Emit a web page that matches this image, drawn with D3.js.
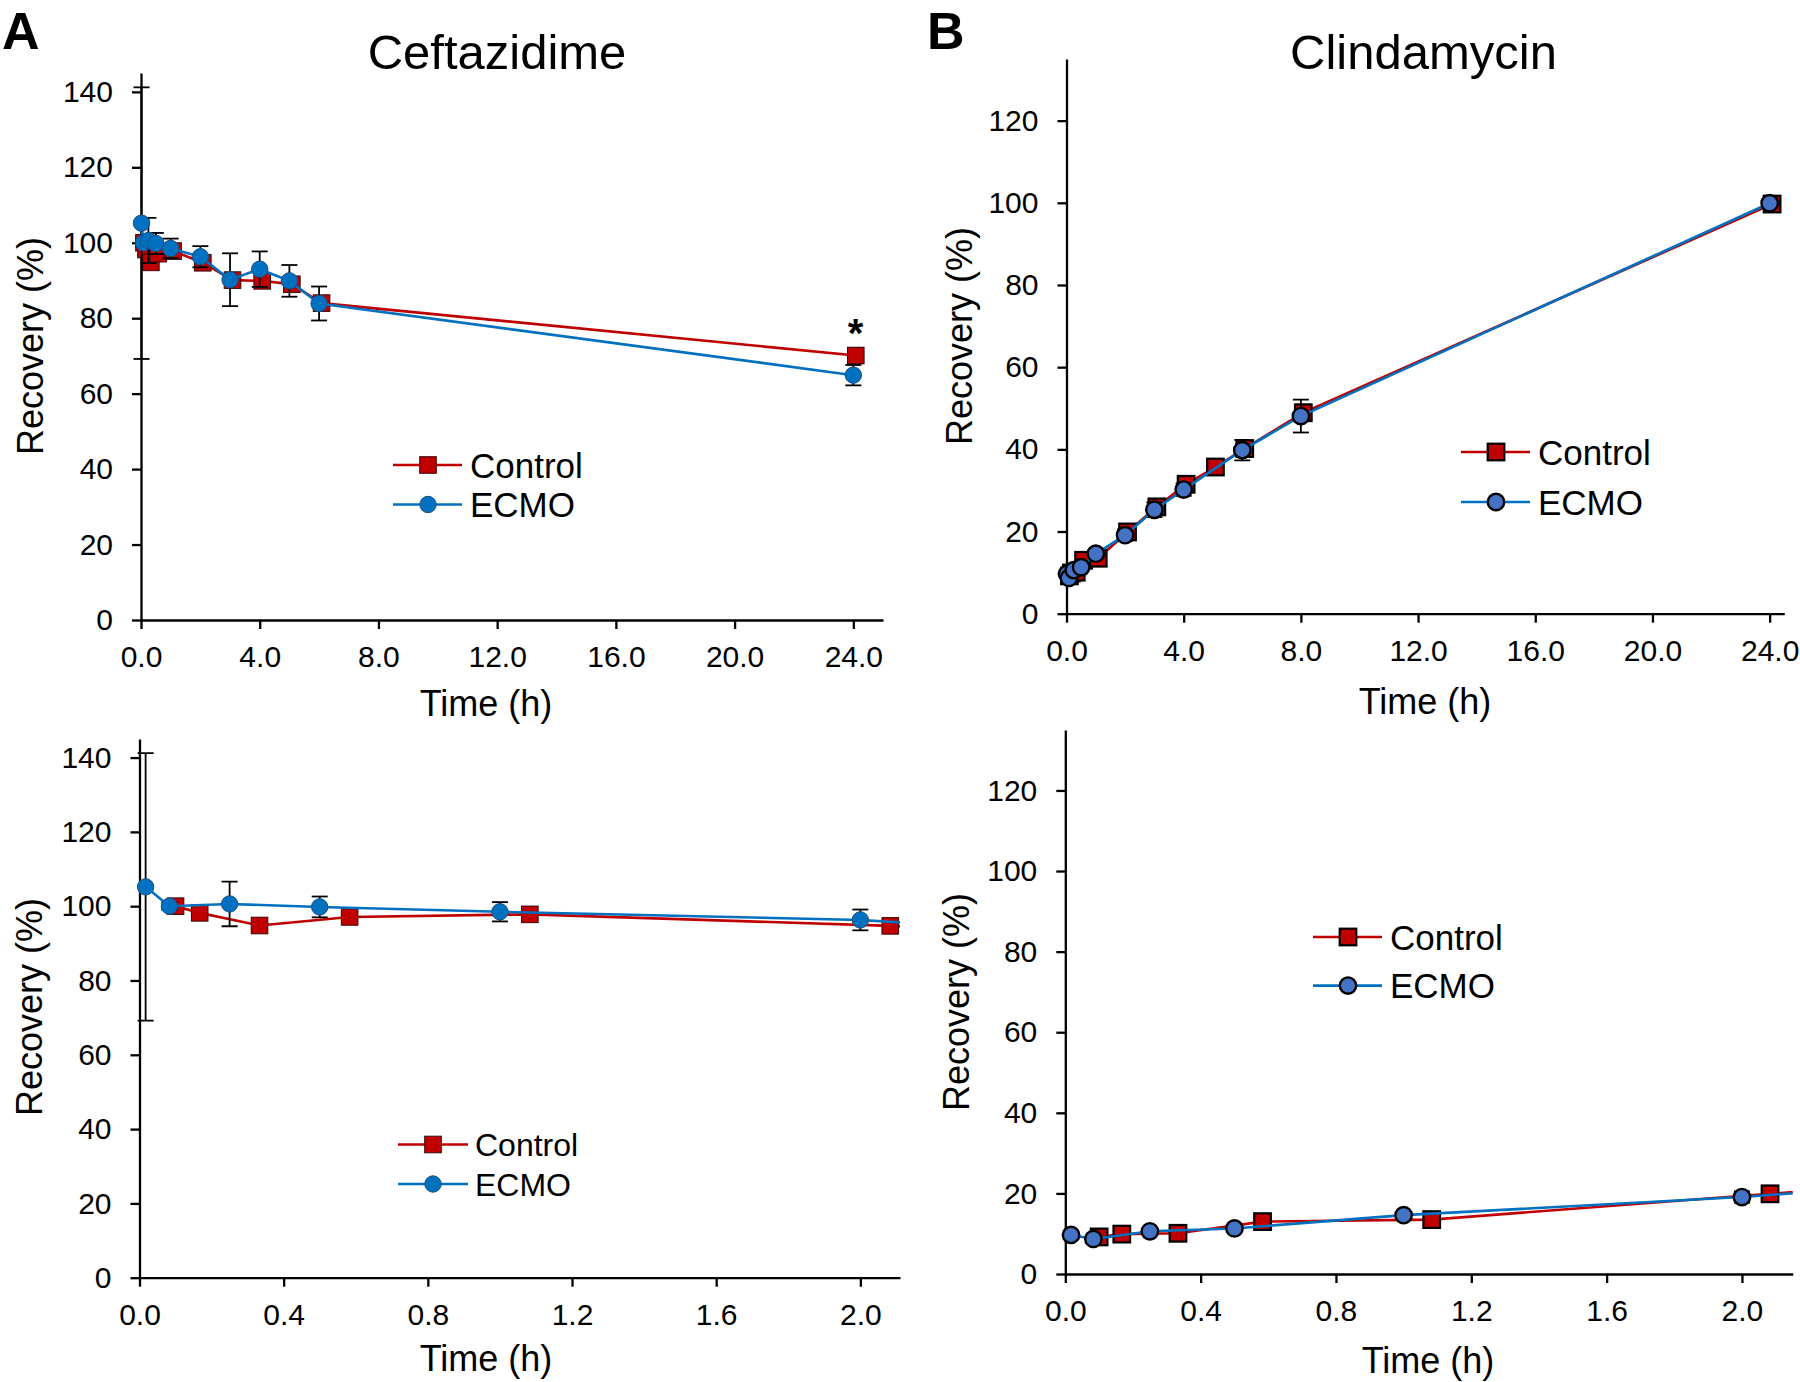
<!DOCTYPE html>
<html>
<head>
<meta charset="utf-8">
<script src="https://cdn.jsdelivr.net/npm/d3@7"></script>
<style>
  body { margin: 0; background: #fff; }
  svg { display: block; }
</style>
</head>
<body>
<svg id="chart" width="1800" height="1382"></svg>
<script>
// ---- data (time in h, recovery in %) ----
// Ceftazidime
const cefCtrlTime = [0.1, 0.167, 0.333, 0.583, 1.083, 2.083, 3.083, 4.083, 5.083, 6.083, 24.083];
const cefCtrl     = [100, 98.2, 94.8, 97.1, 97.8, 94.7, 90.1, 89.9, 89.0, 84.0, 70.1];
const cefCtrlSd   = [0.8, 1.0, 0.8, 1.0, 0.9, 1.0, 1.2, 1.2, 1.5, 1.5, 2.0];
const cefEcmoTime = [0.017, 0.083, 0.25, 0.5, 1, 2, 3, 4, 5, 6, 24];
const cefEcmo     = [105.2, 100, 100.6, 99.8, 98.5, 96.3, 90.2, 93.0, 89.9, 83.9, 64.9];
const cefEcmoSd   = [36, 1.0, 6.0, 2.8, 2.6, 2.8, 7.0, 4.7, 4.2, 4.5, 2.7];

// Clindamycin
const cliCtrlTime = [0.1, 0.167, 0.333, 0.583, 1.083, 2.083, 3.083, 4.083, 5.083, 6.083, 8.083, 24.083];
const cliCtrl     = [9.2, 9.9, 10.1, 13.0, 13.5, 19.9, 26.0, 31.5, 35.7, 40.2, 48.9, 99.7];
const cliCtrlSd   = [0.6, 0.6, 0.6, 0.8, 0.8, 1.0, 1.5, 1.2, 1.0, 1.8, 2.0, 1.2];
const cliEcmoTime = [0.017, 0.083, 0.25, 0.5, 1, 2, 3, 4, 6, 8, 24];
const cliEcmo     = [9.7, 8.7, 10.6, 11.3, 14.6, 19.1, 25.3, 30.2, 39.8, 48.1, 99.9];
const cliEcmoSd   = [0.5, 0.6, 0.6, 0.6, 0.8, 1.4, 1.8, 1.5, 2.5, 4.0, 1.0];

const recoveryTicks = [0, 20, 40, 60, 80, 100, 120, 140];
const recoveryTicksB = [0, 20, 40, 60, 80, 100, 120];
const longTimeTicks = [0, 4, 8, 12, 16, 20, 24];
const shortTimeTicks = [0, 0.4, 0.8, 1.2, 1.6, 2.0];

const FONT = "'Liberation Sans', Arial, Helvetica, sans-serif";
const RED = "#C00000";
const BLUE = "#0070C0";

const svg = d3.select("#chart");

// marker looks differ between the two drug panels
const styleA = { sqStroke: "#3a0a0a", sqWidth: 1, cFill: "#0070C0", cStroke: "#1d4f80", cWidth: 1 };
const styleB = { sqStroke: "#000", sqWidth: 2.2, cFill: "#4472C4", cStroke: "#000", cWidth: 2.4 };

const series = {
  cef: [
    { name: "Control", t: cefCtrlTime, v: cefCtrl, sd: cefCtrlSd, color: RED, shape: "square" },
    { name: "ECMO", t: cefEcmoTime, v: cefEcmo, sd: cefEcmoSd, color: BLUE, shape: "circle" }
  ],
  cli: [
    { name: "Control", t: cliCtrlTime, v: cliCtrl, sd: cliCtrlSd, color: RED, shape: "square" },
    { name: "ECMO", t: cliEcmoTime, v: cliEcmo, sd: cliEcmoSd, color: BLUE, shape: "circle" }
  ]
};

const panels = [
  { id: "at", data: series.cef, style: styleA,
    xDomain: [0, 25], xRange: [141, 883], xTicks: longTimeTicks,
    yDomain: [0, 145], yRange: [620, 73], yTicks: recoveryTicks,
    xTitle: [486, 716], yTitle: [43, 346],
    legend: { x1: 393, x2: 462, mx: 428, rows: [465, 504.5], tx: 470, fs: 35 } },
  { id: "ab", data: series.cef, style: styleA,
    xDomain: [0, 2.11], xRange: [139.5, 900], xTicks: shortTimeTicks,
    yDomain: [0, 145], yRange: [1277.7, 739], yTicks: recoveryTicks,
    xTitle: [486, 1371], yTitle: [42, 1007],
    legend: { x1: 398, x2: 468, mx: 433, rows: [1144.5, 1184], tx: 475, fs: 32 } },
  { id: "bt", data: series.cli, style: styleB,
    xDomain: [0, 24.5], xRange: [1066.5, 1784.3], xTicks: longTimeTicks,
    yDomain: [0, 135], yRange: [613.7, 59], yTicks: recoveryTicksB,
    xTitle: [1425, 714], yTitle: [972, 336],
    legend: { x1: 1461, x2: 1530, mx: 1496, rows: [452, 502], tx: 1538, fs: 35 } },
  { id: "bb", data: series.cli, style: styleB,
    xDomain: [0, 2.15], xRange: [1065.3, 1792.7], xTicks: shortTimeTicks,
    yDomain: [0, 135], yRange: [1274, 730], yTicks: recoveryTicksB,
    xTitle: [1428, 1373], yTitle: [969, 1002],
    legend: { x1: 1313, x2: 1382, mx: 1348, rows: [937, 985.6], tx: 1390, fs: 35 } }
];

function drawMarker(g, shape, cx, cy, st, color) {
  if (shape === "square") {
    g.append("rect")
      .attr("x", cx - 8.3).attr("y", cy - 8.3)
      .attr("width", 16.6).attr("height", 16.6)
      .attr("fill", color)
      .attr("stroke", st.sqStroke).attr("stroke-width", st.sqWidth);
  } else {
    g.append("circle")
      .attr("cx", cx).attr("cy", cy).attr("r", 8.2)
      .attr("fill", st.cFill)
      .attr("stroke", st.cStroke).attr("stroke-width", st.cWidth);
  }
}

function drawPanel(p) {
  const x = d3.scaleLinear().domain(p.xDomain).range(p.xRange);
  const y = d3.scaleLinear().domain(p.yDomain).range(p.yRange);

  // clip at the right end of the x axis, so lines run off the short panels
  svg.append("clipPath").attr("id", "clip-" + p.id)
    .append("rect")
    .attr("x", p.xRange[0] - 40).attr("y", p.yRange[1] - 40)
    .attr("width", p.xRange[1] - p.xRange[0] + 40)
    .attr("height", p.yRange[0] - p.yRange[1] + 80);

  // axes
  const gx = svg.append("g")
    .attr("transform", `translate(0,${p.yRange[0]})`)
    .call(d3.axisBottom(x).tickValues(p.xTicks).tickFormat(d3.format(".1f"))
      .tickSize(9).tickPadding(17).tickSizeOuter(0));
  const gy = svg.append("g")
    .attr("transform", `translate(${p.xRange[0]},0)`)
    .call(d3.axisLeft(y).tickValues(p.yTicks).tickFormat(d3.format("d"))
      .tickSize(9).tickPadding(19).tickSizeOuter(0));
  [gx, gy].forEach(g => {
    g.attr("font-family", FONT).attr("font-size", 30);
    g.select(".domain").attr("stroke", "#000").attr("stroke-width", 2.3);
    g.selectAll(".tick line").attr("stroke", "#000").attr("stroke-width", 2.3);
    g.selectAll(".tick text").attr("fill", "#000");
  });

  // axis titles
  svg.append("text")
    .attr("x", p.xTitle[0]).attr("y", p.xTitle[1])
    .attr("text-anchor", "middle")
    .attr("font-family", FONT).attr("font-size", 36)
    .text("Time (h)");
  svg.append("text")
    .attr("transform", `translate(${p.yTitle[0]},${p.yTitle[1]}) rotate(-90)`)
    .attr("text-anchor", "middle")
    .attr("font-family", FONT).attr("font-size", 36)
    .text("Recovery (%)");

  const plot = svg.append("g").attr("clip-path", `url(#clip-${p.id})`);
  const line = d3.line().x(d => x(d[0])).y(d => y(d[1]));

  p.data.forEach(s => {
    const pts = s.t.map((t, i) => [t, s.v[i], s.sd[i]]);
    const g = plot.append("g");

    // error bars
    pts.forEach(d => {
      const cx = x(d[0]);
      const lo = y(d[1] - d[2]), hi = y(d[1] + d[2]);
      g.append("line").attr("x1", cx).attr("x2", cx).attr("y1", lo).attr("y2", hi)
        .attr("stroke", "#000").attr("stroke-width", 1.8);
      [lo, hi].forEach(yy => g.append("line")
        .attr("x1", cx - 8).attr("x2", cx + 8).attr("y1", yy).attr("y2", yy)
        .attr("stroke", "#000").attr("stroke-width", 1.8));
    });

    g.append("path")
      .datum(pts)
      .attr("d", line)
      .attr("fill", "none")
      .attr("stroke", s.color)
      .attr("stroke-width", 2.6);

    pts.forEach(d => drawMarker(g, s.shape, x(d[0]), y(d[1]), p.style, s.color));
  });

  // legend
  const L = p.legend;
  p.data.forEach((s, i) => {
    const ry = L.rows[i];
    svg.append("line").attr("x1", L.x1).attr("x2", L.x2).attr("y1", ry).attr("y2", ry)
      .attr("stroke", s.color).attr("stroke-width", 2.6);
    drawMarker(svg, s.shape, L.mx, ry, p.style, s.color);
    svg.append("text")
      .attr("x", L.tx).attr("y", ry).attr("dy", "0.36em")
      .attr("font-family", FONT).attr("font-size", L.fs)
      .text(s.name);
  });
}

panels.forEach(drawPanel);

// titles and panel letters
svg.append("text").attr("x", 497).attr("y", 69).attr("text-anchor", "middle")
  .attr("font-family", FONT).attr("font-size", 49).text("Ceftazidime");
svg.append("text").attr("x", 1423.5).attr("y", 69).attr("text-anchor", "middle")
  .attr("font-family", FONT).attr("font-size", 49).text("Clindamycin");
svg.append("text").attr("x", 2).attr("y", 49)
  .attr("font-family", FONT).attr("font-size", 52).attr("font-weight", "bold").text("A");
svg.append("text").attr("x", 927).attr("y", 49)
  .attr("font-family", FONT).attr("font-size", 52).attr("font-weight", "bold").text("B");

// significance mark on the 24 h ceftazidime point
svg.append("text").attr("x", 855.5).attr("y", 347).attr("text-anchor", "middle")
  .attr("font-family", FONT).attr("font-size", 40).attr("font-weight", "bold").text("*");
</script>
</body>
</html>
